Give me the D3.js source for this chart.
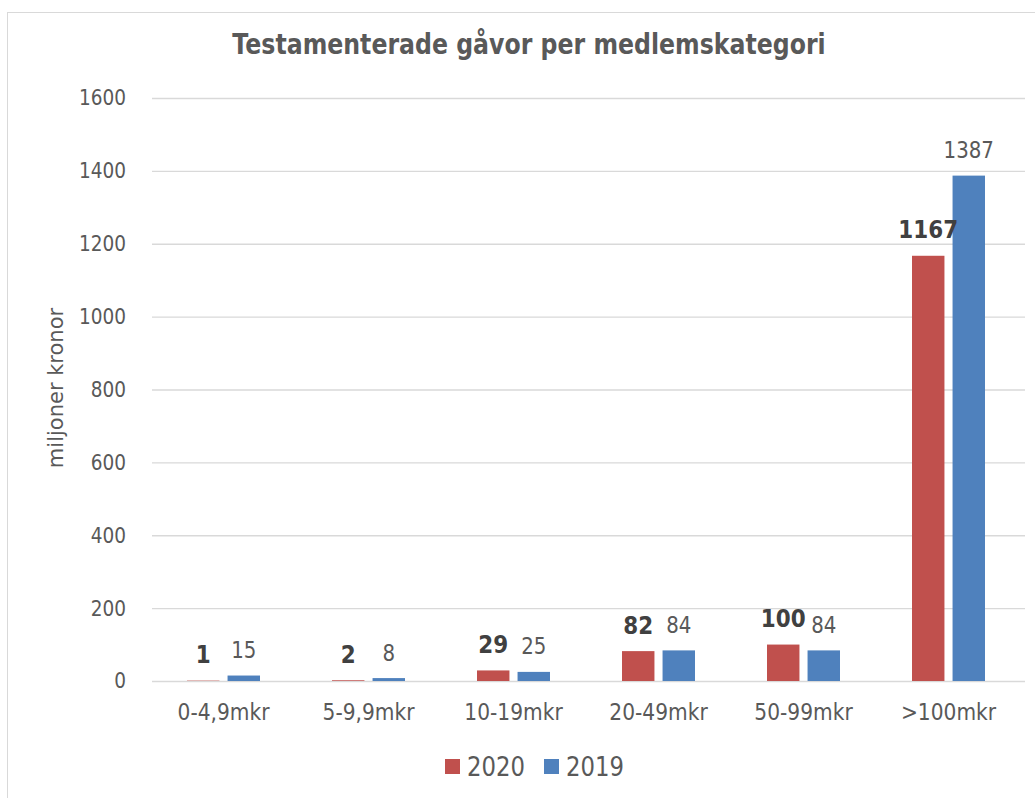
<!DOCTYPE html>
<html>
<head>
<meta charset="utf-8">
<script src="https://cdn.jsdelivr.net/npm/d3@7"></script>
<style>
  body { margin: 0; background: #fff; }
  text { font-family: 'DejaVu Sans', sans-serif; fill: #595959; }
</style>
</head>
<body>
<div id="chart"></div>
<script>
const categories = ['0-4,9mkr', '5-9,9mkr', '10-19mkr', '20-49mkr', '50-99mkr', '>100mkr']
const series = ['2020', '2019']
const values2020 = [1, 2, 29, 82, 100, 1167]
const values2019 = [15, 8, 25, 84, 84, 1387]
const yTicks = [0, 200, 400, 600, 800, 1000, 1200, 1400, 1600]
const colors = { '2020': '#c0504d', '2019': '#4f81bd' }

const margin = { top: 98, right: 14, bottom: 117, left: 151 }
const totalW = 1035
const totalH = 798
const width = totalW - margin.left - margin.right
const height = totalH - margin.top - margin.bottom

// the source font is narrow (Tahoma-like), so text is squeezed sideways
const SQ = 0.86
function squeeze(sel) {
  sel.each(function () {
    const t = d3.select(this)
    const x0 = +t.attr('x') || 0
    t.attr('x', x0 / SQ).attr('transform', 'scale(' + SQ + ',1)')
  })
}

const root = d3.select('#chart')
  .append('svg')
  .attr('width', totalW)
  .attr('height', totalH)

// outer chart frame
root.append('rect')
  .attr('x', 7.5).attr('y', 12.5)
  .attr('width', totalW + 20).attr('height', totalH + 20)
  .attr('fill', 'none')
  .attr('stroke', '#d9d9d9')

const svg = root.append('g')
  .attr('transform', 'translate(' + margin.left + ',' + margin.top + ')')

const x = d3.scaleBand().domain(categories).range([0, width]).padding(0)
const xInner = d3.scaleBand().domain(series).range([x.bandwidth() / 2 - 36.5, x.bandwidth() / 2 + 36.5]).paddingInner(0.2)
const y = d3.scaleLinear().domain([0, 1600]).range([height, 0])

// grid
const yAxis = d3.axisLeft(y).tickValues(yTicks).tickFormat(d3.format('d')).tickSize(-width).tickPadding(25)
svg.append('g')
  .attr('class', 'y-axis')
  .call(yAxis)
  .call(g => g.select('.domain').remove())
  .call(g => g.selectAll('.tick line').attr('x1', 1).attr('x2', width + 4).attr('stroke', '#d9d9d9').attr('stroke-width', 1.3))
  .call(g => g.selectAll('.tick text').style('font-size', '21.5px').attr('fill', '#595959').call(squeeze))

// x axis labels
const xAxis = d3.axisBottom(x).tickSize(0)
svg.append('g')
  .attr('transform', 'translate(0,' + height + ')')
  .call(xAxis)
  .call(g => g.select('.domain').remove())
  .call(g => g.selectAll('.tick text')
    .attr('y', 39).attr('dy', 0)
    .style('font-size', '23.5px').attr('fill', '#595959').call(squeeze))

const rows = categories.map((c, i) => ({ cat: c, '2020': values2020[i], '2019': values2019[i] }))

const groups = svg.selectAll('.grp')
  .data(rows)
  .enter()
  .append('g')
  .attr('class', 'grp')
  .attr('transform', d => 'translate(' + x(d.cat) + ',0)')

groups.selectAll('rect')
  .data(d => series.map(s => ({ key: s, value: d[s] })))
  .enter()
  .append('rect')
  .attr('x', d => xInner(d.key))
  .attr('y', d => y(d.value))
  .attr('width', xInner.bandwidth())
  .attr('height', d => height - y(d.value))
  .attr('fill', d => colors[d.key])

groups.selectAll('.lbl')
  .data(d => series.map(s => ({ key: s, value: d[s] })))
  .enter()
  .append('text')
  .attr('class', 'lbl')
  .attr('x', d => xInner(d.key) + xInner.bandwidth() / 2)
  .attr('y', d => y(d.value) - 17.5)
  .attr('text-anchor', 'middle')
  .style('font-size', d => d.key === '2020' ? '25px' : '23px')
  .style('font-weight', d => d.key === '2020' ? 'bold' : 'normal')
  .style('fill', d => d.key === '2020' ? '#404040' : '#595959')
  .text(d => d.value)
  .call(squeeze)

// title
root.append('text')
  .attr('x', 529)
  .attr('y', 54)
  .attr('text-anchor', 'middle')
  .style('font-size', '27.5px')
  .style('font-weight', 'bold')
  .text('Testamenterade gåvor per medlemskategori')
  .call(squeeze)

// y label
root.append('text')
  .attr('transform', 'translate(63,388) rotate(-90)')
  .attr('text-anchor', 'middle')
  .style('font-size', '21px')
  .text('miljoner kronor')

// legend
const legend = root.append('g').attr('transform', 'translate(445,759)')
const legendItems = legend.selectAll('g')
  .data(series)
  .enter()
  .append('g')
  .attr('transform', (d, i) => 'translate(' + i * 99 + ',0)')
legendItems.append('rect')
  .attr('x', 0).attr('y', 0)
  .attr('width', 15).attr('height', 15)
  .attr('fill', d => colors[d])
legendItems.append('text')
  .attr('x', 22).attr('y', 17)
  .style('font-size', '26.5px')
  .text(d => d)
  .call(squeeze)
</script>
</body>
</html>
